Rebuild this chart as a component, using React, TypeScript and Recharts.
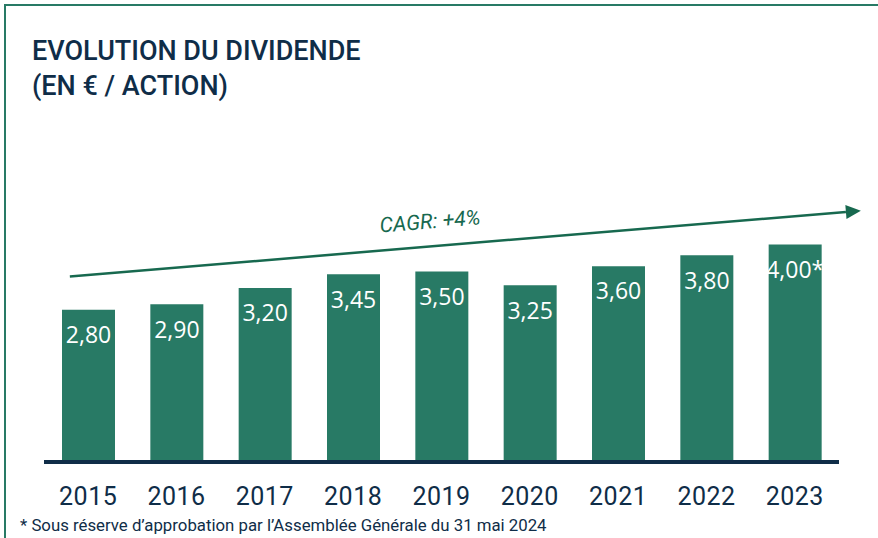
import { BarChart, Bar, XAxis, YAxis, LabelList, ReferenceLine } from 'recharts';

const years = ['2015', '2016', '2017', '2018', '2019', '2020', '2021', '2022', '2023'];
const dividends = [2.8, 2.9, 3.2, 3.45, 3.5, 3.25, 3.6, 3.8, 4.0];
const valueLabels = ['2,80', '2,90', '3,20', '3,45', '3,50', '3,25', '3,60', '3,80', '4,00*'];

// trend arrow, in (position along the 0..8 year index axis, value) space
const trendStart = { x: 0.26, y: 3.41 };
const trendEnd = { x: 8.22, y: 4.62 };
const trendLabel = 'CAGR: +4%';

const GREEN = '#287a65';
const NAVY = '#0f2d48';

const data = years.map((year, i) => ({ year, value: dividends[i], label: valueLabels[i] }));

const TrendArrow = (props: any) => {
    const { x1, y1, x2, y2 } = props;
    const angle = Math.atan2(y2 - y1, x2 - x1);
    const deg = (angle * 180) / Math.PI;
    const head = 15;
    const bx = x2 - head * Math.cos(angle);
    const by = y2 - head * Math.sin(angle);
    const nx = -Math.sin(angle);
    const ny = Math.cos(angle);
    const t = 0.458;
    const tx = x1 + (x2 - x1) * t - nx * 25;
    const ty = y1 + (y2 - y1) * t - ny * 25;
    return (
        <g>
            <line x1={x1} y1={y1} x2={bx} y2={by} stroke="#17694f" strokeWidth={2.5} />
            <polygon
                points={`${x2},${y2} ${bx + nx * 7},${by + ny * 7} ${bx - nx * 7},${by - ny * 7}`}
                fill="#17694f"
            />
            <text
                x={tx}
                y={ty}
                textAnchor="middle"
                dominantBaseline="central"
                transform={`rotate(${deg} ${tx} ${ty})`}
                fill="#17694f"
                fontSize={21}
                fontStyle="italic"
                fontFamily="Roboto, sans-serif"
            >
                {trendLabel}
            </text>
        </g>
    );
};

export default function App() {
    return (
        <div style={{ position: 'absolute', left: 0, top: 0, width: 878, height: 538, background: '#fff', overflow: 'hidden' }}>
            <div style={{ position: 'absolute', left: 4, top: 4, right: 0, bottom: 0, borderTop: `2px solid ${GREEN}`, borderLeft: `2px solid ${GREEN}` }} />
            <div style={{ position: 'absolute', left: 32, top: 34, fontFamily: 'Roboto, sans-serif', fontWeight: 500, fontSize: 27, lineHeight: '35px', color: NAVY }}>
                EVOLUTION DU DIVIDENDE
                <br />
                (EN € / ACTION)
            </div>
            <div style={{ position: 'absolute', left: 0, top: 0 }}>
                <BarChart width={878} height={538} data={data} margin={{ top: 190, right: 39, bottom: 46, left: 44 }}>
                    <XAxis
                        dataKey="year"
                        axisLine={{ stroke: NAVY, strokeWidth: 4 }}
                        tickLine={false}
                        tick={{ fill: NAVY, fontSize: 25, fontFamily: 'Roboto, sans-serif', letterSpacing: 0.5, dy: 17 }}
                        interval={0}
                    />
                    <XAxis xAxisId="trend" type="number" domain={[0, 8]} allowDataOverflow hide />
                    <YAxis domain={[0, 5]} hide />
                    <ReferenceLine
                        xAxisId="trend"
                        segment={[trendStart, trendEnd]}
                        ifOverflow="visible"
                        shape={TrendArrow}
                    />
                    <Bar dataKey="value" fill={GREEN} barSize={53} isAnimationActive={false}>
                        <LabelList
                            dataKey="label"
                            position="insideTop"
                            offset={17}
                            fill="#fff"
                            fontSize={23}
                            fontFamily="'Open Sans', sans-serif"
                        />
                    </Bar>
                </BarChart>
            </div>
            <div style={{ position: 'absolute', left: 20, top: 515, fontFamily: 'Roboto, sans-serif', fontSize: 16.8, color: NAVY, whiteSpace: 'nowrap' }}>
                * Sous réserve d’approbation par l’Assemblée Générale du 31 mai 2024
            </div>
        </div>
    );
}
